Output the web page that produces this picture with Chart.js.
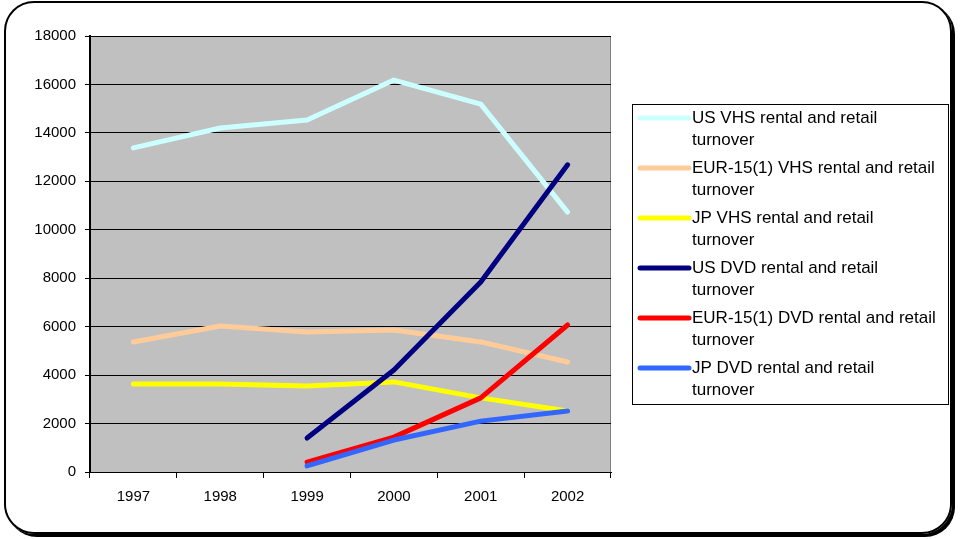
<!DOCTYPE html>
<html>
<head>
<meta charset="utf-8">
<script src="https://cdn.jsdelivr.net/npm/chart.js@4.4.0/dist/chart.umd.min.js"></script>
<style>
  html, body { margin: 0; padding: 0; background: #fff; }
  #wrap { position: relative; width: 960px; height: 539px; overflow: hidden; }
  #frame {
    position: absolute; left: 4px; top: 1px; width: 944px; height: 529px;
    border: 2px solid #000; border-radius: 30px;
    box-shadow: 3px 3px 0 #000;
  }
  canvas { position: absolute; left: 0; top: 0; }
</style>
</head>
<body>
<div id="wrap">
  <div id="frame"></div>
  <canvas id="chart" width="960" height="539"></canvas>
</div>
<script>
  // Data
  const years = ['1997', '1998', '1999', '2000', '2001', '2002'];
  const usVhs = [13380, 14200, 14530, 16180, 15190, 10730];
  const eurVhs = [5370, 6030, 5780, 5860, 5370, 4540];
  const jpVhs = [3630, 3630, 3550, 3720, 3060, 2520];
  const usDvd = [null, null, 1400, 4210, 7840, 12680];
  const eurDvd = [null, null, 410, 1440, 3060, 6070];
  const jpDvd = [null, null, 250, 1320, 2100, 2520];
  const seriesNames = [
    'US VHS rental and retail turnover',
    'EUR-15(1) VHS rental and retail turnover',
    'JP VHS rental and retail turnover',
    'US DVD rental and retail turnover',
    'EUR-15(1) DVD rental and retail turnover',
    'JP DVD rental and retail turnover'
  ];
  const seriesColors = ['#CCFFFF', '#FFCC99', '#FFFF00', '#000080', '#FF0000', '#3366FF'];
  const yTicks = [0, 2000, 4000, 6000, 8000, 10000, 12000, 14000, 16000, 18000];

  const font = 'Liberation Sans, Arial, sans-serif';
  const allSeries = [usVhs, eurVhs, jpVhs, usDvd, eurDvd, jpDvd];

  // grey plot background
  const plotBg = {
    id: 'plotBg',
    beforeDraw(chart) {
      const { ctx, chartArea: a } = chart;
      ctx.save();
      ctx.fillStyle = '#C0C0C0';
      ctx.fillRect(a.left, a.top, a.right - a.left, a.bottom - a.top);
      ctx.strokeStyle = '#808080';
      ctx.lineWidth = 1;
      ctx.strokeRect(a.left + 0.5, a.top + 0.5, a.right - a.left - 1, a.bottom - a.top);
      ctx.restore();
    }
  };

  // boxed legend, label wrapped before its last word
  const boxLegend = {
    id: 'boxLegend',
    afterDraw(chart) {
      const ctx = chart.ctx;
      const x0 = 632, y0 = 104, w = 316, h = 300;
      ctx.save();
      ctx.fillStyle = '#fff';
      ctx.fillRect(x0, y0, w, h);
      ctx.strokeStyle = '#000';
      ctx.lineWidth = 1;
      ctx.strokeRect(x0 + 0.5, y0 + 0.5, w, h);
      ctx.font = '17px ' + font;
      ctx.textBaseline = 'middle';
      chart.data.datasets.forEach((ds, i) => {
        const y = 118 + i * 50;
        ctx.strokeStyle = ds.borderColor;
        ctx.lineWidth = 5;
        ctx.lineCap = 'round';
        ctx.beginPath();
        ctx.moveTo(640, y);
        ctx.lineTo(689, y);
        ctx.stroke();
        const words = ds.label.split(' ');
        const lines = [words.slice(0, -1).join(' '), words[words.length - 1]];
        ctx.fillStyle = '#000';
        lines.forEach((ln, k) => ctx.fillText(ln, 692, y + k * 22));
      });
      ctx.restore();
    }
  };

  new Chart(document.getElementById('chart'), {
    type: 'line',
    data: {
      labels: years,
      datasets: allSeries.map((d, i) => ({
        label: seriesNames[i],
        data: d,
        borderColor: seriesColors[i],
        backgroundColor: seriesColors[i],
        borderWidth: 5,
        borderCapStyle: 'round',
        borderJoinStyle: 'round',
        pointRadius: 0,
        tension: 0,
        order: allSeries.length - i
      }))
    },
    options: {
      responsive: false,
      animation: false,
      events: [],
      layout: { padding: { left: 0, top: 36, right: 349, bottom: 0 } },
      plugins: { legend: { display: false }, tooltip: { enabled: false } },
      scales: {
        x: {
          offset: true,
          grid: { offset: true, drawOnChartArea: false, tickLength: 6, color: '#000' },
          border: { color: '#000', width: 1 },
          ticks: { color: '#000', font: { family: font, size: 15 }, padding: 10, maxRotation: 0 },
          afterFit(s) { s.height = 67; }
        },
        y: {
          min: 0,
          max: 18000,
          afterBuildTicks(s) { s.ticks = yTicks.map(v => ({ value: v })); },
          grid: { color: '#000', tickLength: 5 },
          border: { color: '#000', width: 2 },
          ticks: {
            color: '#000', font: { family: font, size: 15 }, padding: 9,
            callback: v => String(v)
          },
          afterFit(s) { s.width = 90; }
        }
      }
    },
    plugins: [plotBg, boxLegend]
  });
</script>
</body>
</html>
